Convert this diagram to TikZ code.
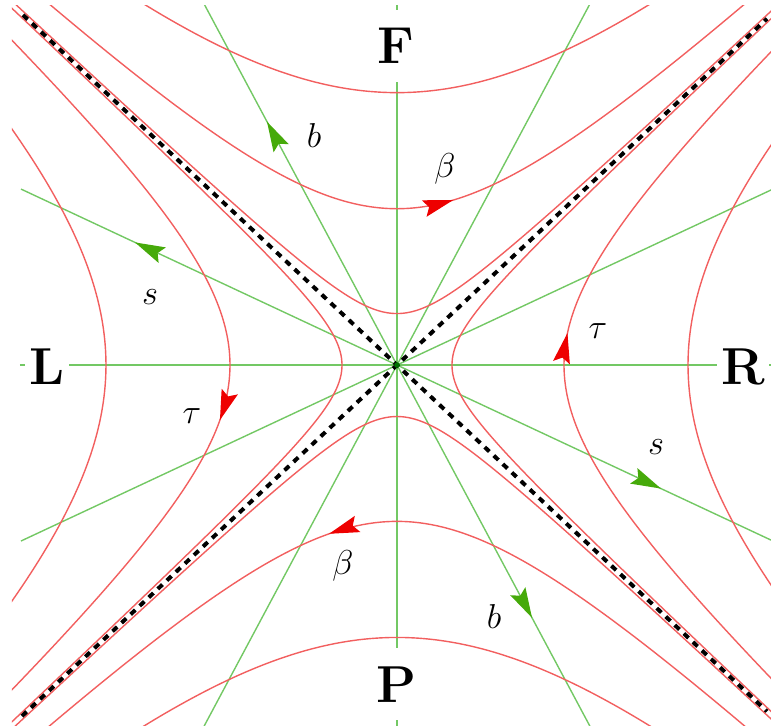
\documentclass[tikz,border=0pt]{standalone}
\usetikzlibrary{arrows.meta}
\definecolor{hypred}{RGB}{242,95,95}
\definecolor{raygreen}{RGB}{115,200,100}
\definecolor{arrgreen}{RGB}{70,170,10}
\definecolor{arrred}{RGB}{238,0,0}
\definecolor{dotgreen}{RGB}{0,110,0}
\begin{document}
\begin{tikzpicture}[x=0.5pt,y=0.468pt,
  hyp/.style={hypred,line width=0.7pt},
  ray/.style={raygreen,line width=0.7pt},
  asym/.style={black,line width=2pt,dash pattern=on 3.2pt off 3pt},
  garrow/.style={arrgreen,line width=0.7pt,-{Stealth[length=15pt,width=8.5pt,inset=2.5pt]}},
  rarrow/.style={arrred,line width=0.7pt,-{Stealth[length=15pt,width=8.5pt,inset=2.5pt]}},
  region/.style={fill=white,inner xsep=2pt,inner ysep=9pt,font=\fontsize{26}{30}\selectfont\bfseries},
  param/.style={inner sep=1pt,font=\fontsize{16}{19}\selectfont}]
\useasboundingbox (-397,-384.6) rectangle (374,390);
\begin{scope}
\clip (-385,-385) rectangle (385,384.6);
% rays of constant rapidity
\draw[ray] (-377,0) -- (390,0);
\draw[ray] (0,-390) -- (0,390);
\draw[ray] (-376,188) -- (376,-188);
\draw[ray] (-376,-188) -- (376,188);
\draw[ray] (-195,390) -- (195,-390);
\draw[ray] (-195,-390) -- (195,390);
% hyperbolas
\foreach \a in {55,167,291} {
  \draw[hyp] plot[domain=-3:3,samples=160,smooth,variable=\t] ({\a*cosh(\t)},{\a*sinh(\t)});
  \draw[hyp] plot[domain=-3:3,samples=160,smooth,variable=\t] ({-\a*cosh(\t)},{\a*sinh(\t)});
  \draw[hyp] plot[domain=-3:3,samples=160,smooth,variable=\t] ({\a*sinh(\t)},{\a*cosh(\t)});
  \draw[hyp] plot[domain=-3:3,samples=160,smooth,variable=\t] ({\a*sinh(\t)},{-\a*cosh(\t)});
}
% light cone
\draw[asym] (-374,374) -- (370,-370);
\draw[asym] (-375,-375) -- (370,370);
\end{scope}
% flow arrows on hyperbolas
\draw[rarrow] ({167*sinh(0.31)},{167*cosh(0.31)}) -- ({167*sinh(0.33)},{167*cosh(0.33)});
\draw[rarrow] ({167*sinh(-0.376)},{-167*cosh(-0.376)}) -- ({167*sinh(-0.396)},{-167*cosh(-0.396)});
\draw[rarrow] ({167*cosh(0.183)},{167*sinh(0.183)}) -- ({167*cosh(0.203)},{167*sinh(0.203)});
\draw[rarrow] ({-167*cosh(-0.325)},{167*sinh(-0.325)}) -- ({-167*cosh(-0.345)},{167*sinh(-0.345)});
% flow arrows on rays
\draw[garrow] (-250,125) -- (-262,131);
\draw[garrow] (252,-126) -- (264,-132);
\draw[garrow] (-124,248) -- (-130,260);
\draw[garrow] (129,-258) -- (135,-270);
\fill[dotgreen] (0,0) circle[radius=1.4pt];
% labels
\node[region] (F) at (-1,341) {F};
\node[region] (P) at (-1,-341) {P};
\node[region] (L) at (-350,-2) {L};
\node[region] (R) at (346,-2) {R};
\node[param] (bu) at (-83,245) {$b$};
\node[param] (bd) at (97,-269) {$b$};
\node[param] (su) at (-247,73) {$s$};
\node[param] (sd) at (259,-88) {$s$};
\node[param] (betau) at (48,210) {$\beta$};
\node[param] (betad) at (-54,-215) {$\beta$};
\node[param] (tauR) at (201,36) {$\tau$};
\node[param] (tauL) at (-205,-55) {$\tau$};
\end{tikzpicture}
\end{document}
